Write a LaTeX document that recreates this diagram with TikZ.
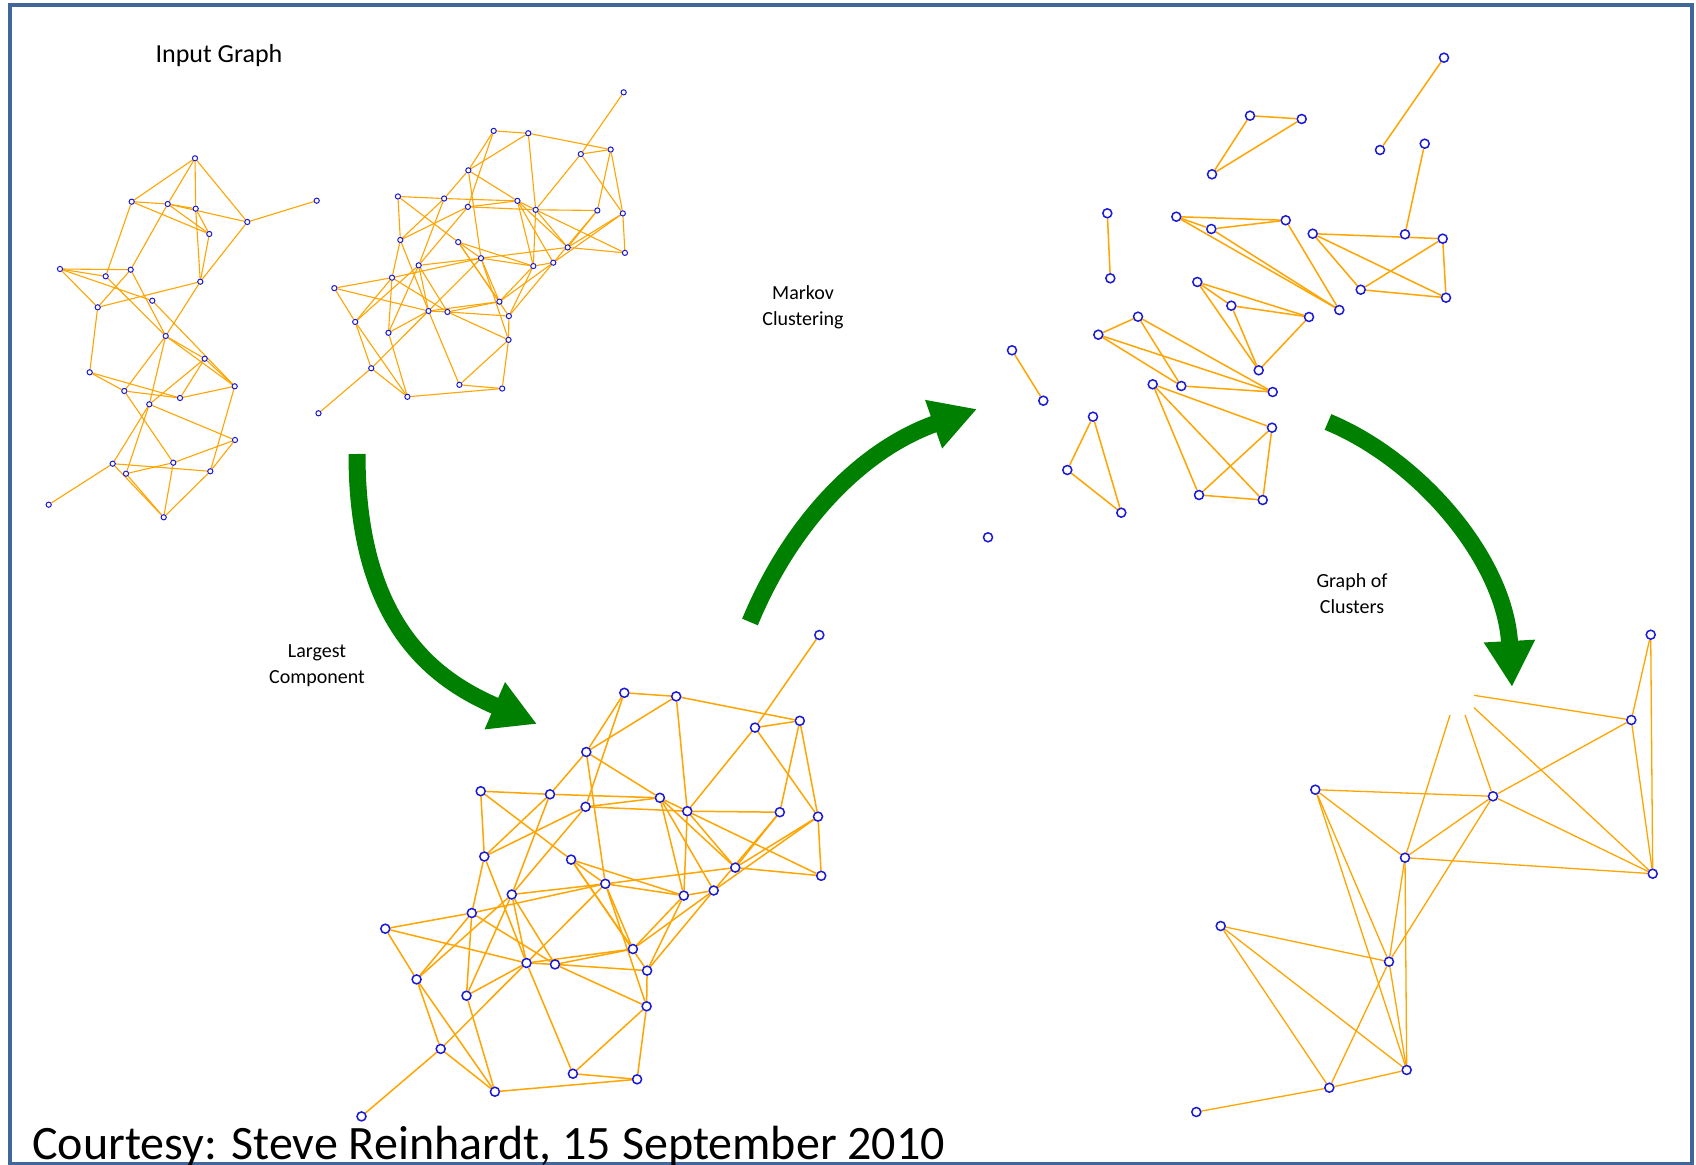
\documentclass[tikz,border=0pt]{standalone}
\usepackage{fontspec}
\setmainfont{Carlito}
\usetikzlibrary{arrows.meta}
\definecolor{edgeor}{RGB}{255,165,0}
\definecolor{vblue}{RGB}{25,25,215}
\definecolor{frameblue}{RGB}{65,103,154}
\definecolor{arrowgreen}{RGB}{0,128,0}
\pgfdeclarelayer{bg}
\pgfsetlayers{bg,main}
\tikzset{
 vsmall/.style={circle,draw=vblue,fill=white,inner sep=0pt,minimum size=2.6pt,line width=0.5pt},
 vbig/.style={circle,draw=vblue,fill=white,inner sep=0pt,minimum size=4.5pt,line width=0.75pt},
 esmall/.style={draw=edgeor,line width=0.55pt},
 ebig/.style={draw=edgeor,line width=0.75pt},
 bigarrow/.style={draw=arrowgreen,line width=8.5pt,-{Triangle[length=23pt,width=24pt]}},
 lbl/.style={font=\fontsize{10pt}{13pt}\selectfont,align=center,inner sep=0pt}
}
\newcommand\compgraph[1]{%
 \node[cnode] (#1T) at (819.3,635) {};
 \node[cnode] (#1A) at (624.3,692.8) {};
 \node[cnode] (#1B) at (676.2,696.4) {};
 \node[cnode] (#1C) at (755,727.6) {};
 \node[cnode] (#1D) at (799.8,720.8) {};
 \node[cnode] (#1E) at (586.3,752) {};
 \node[cnode] (#1N) at (480.7,791.2) {};
 \node[cnode] (#1F) at (550,794.3) {};
 \node[cnode] (#1G) at (585.6,806.8) {};
 \node[cnode] (#1H) at (659.9,797.8) {};
 \node[cnode] (#1I) at (687.3,811.2) {};
 \node[cnode] (#1J) at (779.8,812.2) {};
 \node[cnode] (#1K) at (818,816.6) {};
 \node[cnode] (#1KK) at (821.2,875.8) {};
 \node[cnode] (#1M) at (735.3,867.6) {};
 \node[cnode] (#1MM) at (713.7,890.5) {};
 \node[cnode] (#1MMM) at (683.8,895.6) {};
 \node[cnode] (#1O) at (484.3,856.5) {};
 \node[cnode] (#1L) at (571.1,859.6) {};
 \node[cnode] (#1P) at (605.3,883.8) {};
 \node[cnode] (#1Q) at (511.8,894.5) {};
 \node[cnode] (#1R) at (471.8,913) {};
 \node[cnode] (#1S) at (385.3,928.7) {};
 \node[cnode] (#1U) at (632.9,949) {};
 \node[cnode] (#1V) at (647.1,970.6) {};
 \node[cnode] (#1W) at (526.5,963) {};
 \node[cnode] (#1X) at (555,964.4) {};
 \node[cnode] (#1Y) at (416.6,979.4) {};
 \node[cnode] (#1Z) at (466.5,995.7) {};
 \node[cnode] (#1AA) at (646.6,1006.3) {};
 \node[cnode] (#1AB) at (440.7,1048.9) {};
 \node[cnode] (#1AC) at (572.9,1073.7) {};
 \node[cnode] (#1AD) at (637.1,1079.3) {};
 \node[cnode] (#1AE) at (494.9,1091.7) {};
 \node[cnode] (#1AF) at (361.5,1116.4) {};
 \begin{pgfonlayer}{bg}
 \foreach \u/\v in {T/C,A/B,A/E,A/G,B/E,B/D,B/I,C/D,C/I,C/K,D/J,D/K,
   E/F,E/H,E/P,N/F,N/O,N/L,F/H,F/Q,F/O,G/O,G/H,G/I,G/Q,
   H/I,H/M,H/MM,H/MMM,I/J,I/KK,I/M,I/MMM,J/M,J/MM,K/M,K/MM,K/KK,M/KK,M/P,
   L/MMM,L/P,L/U,L/V,O/W,O/R,P/Q,P/W,P/U,P/AA,P/MMM,R/P,
   Q/W,Q/X,Q/Y,Q/Z,R/S,R/Y,R/Z,R/X,S/Y,S/W,Y/AB,Y/AE,Z/W,Z/AE,
   AB/AF,AB/AE,AB/W,AE/AD,AC/AD,AC/W,AC/AA,AD/AA,
   W/X,X/V,X/U,W/U,X/AA,U/MMM,U/MM,V/MMM,V/MM,V/AA,MM/MMM}
   {\draw[cedge] (#1\u) -- (#1\v);}
 \end{pgfonlayer}
}
\begin{document}
\begin{tikzpicture}[x=0.5pt,y=-0.5pt]
\useasboundingbox (0,0) rectangle (1696,1165);
\clip (0,0) rectangle (1696,1165);
\begin{pgfonlayer}{bg}
\fill[white] (0,0) rectangle (1696,1165);
\end{pgfonlayer}
\draw[frameblue,line width=2pt] (10,5.5) rectangle (1692,1163.5);

% ---------- input graph: left cluster
\foreach \n/\x/\y in {1/195/158.3,2/131.7/201.7,3/167.7/204,4/195.7/208.7,5/247.3/222,
  6/316.7/200.7,7/209.3/234,8/60/269,9/130.7/269.7,10/105.7/276.3,11/200.3/281.7,
  12/152.3/300.7,13/97.7/307.3,14/165.7/336,15/204.7/358.7,16/89.7/372.3,17/234.7/386.3,
  18/124.3/391,19/180/398,20/149.3/404.3,21/235/440,22/112.7/463.7,23/173.3/462.7,
  24/210.3/471.3,25/126/473.7,26/48.7/504.7,27/163.7/517.3}
  {\node[vsmall] (a\n) at (\x,\y) {};}
\begin{pgfonlayer}{bg}
\foreach \u/\v in {1/2,1/3,1/4,1/5,2/3,2/7,2/10,3/4,3/7,3/5,3/9,4/11,4/7,7/11,
  5/6,5/11,8/9,8/10,8/13,8/12,10/14,9/14,9/13,13/11,13/16,11/14,12/17,
  14/15,14/18,14/20,14/17,15/17,15/19,15/20,16/18,16/19,18/19,18/23,17/19,17/24,
  20/21,20/22,20/25,21/23,21/24,22/24,22/26,22/27,25/23,25/27,23/27,24/27}
  {\draw[esmall] (a\u) -- (a\v);}
\end{pgfonlayer}

% ---------- input graph: right cluster (scaled copy of the largest component)
\begin{scope}[shift={(77.47,-331)},scale=0.66667,cnode/.style={vsmall},cedge/.style={esmall}]
\compgraph{i}
\end{scope}

% ---------- largest component
\begin{scope}[cnode/.style={vbig},cedge/.style={ebig}]
\compgraph{b}
\end{scope}

% ---------- Markov clustering result
\foreach \n/\x/\y in {1/1444/57.7,2/1380/150,3/1250/115.7,4/1301.7/119,5/1212/174.3,
  6/1424.7/143.7,7/1405/234.3,8/1107.3/213.3,9/1110.3/278.3,10/1176.3/216.7,
  11/1211.3/229,12/1285.7/220.3,13/1339.3/310,14/1312.7/233.7,15/1442.7/238.7,
  16/1360.7/289.7,17/1446/297.7,18/1197.3/282,19/1231.3/305.7,20/1258.7/370.3,
  21/1309/317,22/1138/316.7,23/1098.3/334.7,24/1181.3/386,25/1272.7/392,
  26/1012/350.3,27/1043.3/400.7,28/1093/416.7,29/1067.3/470,30/1121.3/512.7,
  31/1152.7/384.3,32/1272/427.7,33/1199/495,34/1262.7/500,35/988/537.3}
  {\node[vbig] (m\n) at (\x,\y) {};}
\begin{pgfonlayer}{bg}
\foreach \u/\v in {1/2,3/4,3/5,4/5,6/7,8/9,10/11,10/12,11/12,10/13,11/13,12/13,
  14/15,14/16,14/17,15/16,15/17,16/17,18/19,18/20,18/21,19/20,19/21,20/21,
  22/23,22/24,22/25,23/24,23/25,24/25,26/27,28/29,28/30,29/30,
  31/32,31/33,31/34,32/33,32/34,33/34}
  {\draw[ebig] (m\u) -- (m\v);}
\end{pgfonlayer}

% ---------- graph of clusters
\foreach \n/\x/\y in {1/1650.7/634.7,2/1631.3/720,3/1493/796.3,4/1315.3/789.7,
  5/1405/857.7,6/1652.7/873.7,7/1220.7/926,8/1389/961.7,9/1406.7/1070,
  10/1329.3/1087.7,11/1196.3/1112}
  {\node[vbig] (g\n) at (\x,\y) {};}
\coordinate (c1) at (1474,695.3);
\coordinate (c2) at (1474,707.7);
\coordinate (c3) at (1450,715);
\coordinate (c4) at (1465,715);
\begin{pgfonlayer}{bg}
\foreach \u/\v in {g1/g2,g1/g6,g2/g3,g2/g6,c1/g2,c2/g6,c3/g5,c4/g3,
  g4/g3,g4/g5,g4/g8,g4/g9,g3/g5,g3/g6,g3/g8,g5/g6,g5/g8,g5/g9,
  g7/g8,g7/g9,g7/g10,g8/g10,g8/g9,g10/g9,g10/g11}
  {\draw[ebig,line width=0.65pt] (\u) -- (\v);}
\end{pgfonlayer}

% ---------- green arrows
\coordinate (p1s) at (357,454);
\coordinate (p1e) at (537,724);
\draw[bigarrow] (p1s) .. controls (357,630) and (440,682) .. (p1e);
\coordinate (p2s) at (750,622);
\coordinate (p2e) at (977,409);
\draw[bigarrow] (p2s) .. controls (790,525) and (860,450) .. (p2e);
\coordinate (p3s) at (1328,422);
\coordinate (p3e) at (1512,687);
\draw[bigarrow] (p3s) .. controls (1420,460) and (1505,560) .. (p3e);

% ---------- texts
\node[font=\fontsize{13pt}{15pt}\selectfont,anchor=base,inner sep=0pt] (title) at (219,63) {Input Graph};
\node[lbl] (mc) at (803,307) {Markov\\Clustering};
\node[lbl] (lc) at (317,666) {Largest\\Component};
\node[lbl] (gc) at (1352,594) {Graph of\\Clusters};
\node[font=\fontsize{24pt}{28pt}\selectfont,anchor=base west,inner sep=0pt] (court) at (32,1159) {Courtesy: Steve Reinhardt, 15 September 2010};
\end{tikzpicture}
\end{document}
